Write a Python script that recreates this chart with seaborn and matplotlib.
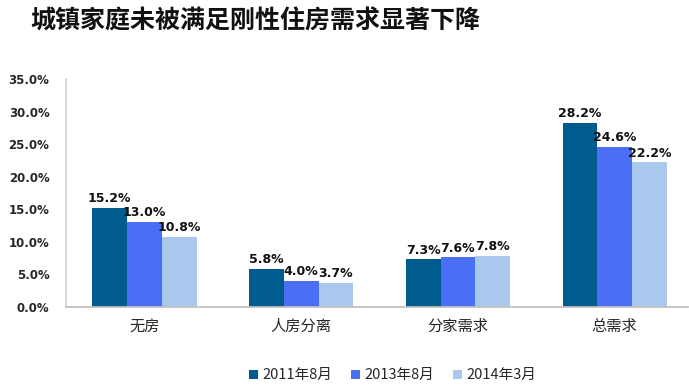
import matplotlib.pyplot as plt
import pandas as pd
import seaborn as sns

categories = ['无房', '人房分离', '分家需求', '总需求']
periods = ['2011年8月', '2013年8月', '2014年3月']
values_2011 = [15.2, 5.8, 7.3, 28.2]
values_2013 = [13.0, 4.0, 7.6, 24.6]
values_2014 = [10.8, 3.7, 7.8, 22.2]
colors = ['#005b8f', '#4a6ff5', '#a8c8ee']

df = pd.DataFrame({
    'category': categories * 3,
    'period': [periods[0]] * 4 + [periods[1]] * 4 + [periods[2]] * 4,
    'value': values_2011 + values_2013 + values_2014,
})

sns.set_theme(style='white')
plt.rcParams['font.family'] = ['Noto Sans CJK SC', 'DejaVu Sans']

fig = plt.figure(figsize=(6.89, 3.87), dpi=100)
ax = fig.add_axes([0.096, 0.207, 0.903, 0.589])

sns.barplot(data=df, x='category', y='value', hue='period', order=categories,
            hue_order=periods, palette=colors, width=0.665, saturation=1,
            ax=ax, legend=True, edgecolor='none')

for container in ax.containers:
    ax.bar_label(container, labels=[f'{v:.1f}%' for v in container.datavalues],
                 fontsize=9, fontweight='bold', padding=2, color='#111111',
                 family=['DejaVu Sans'])

ax.set_ylim(0, 35)
ax.set_yticks([0, 5, 10, 15, 20, 25, 30, 35])
ax.set_yticklabels([f'{t:.1f}%' for t in range(0, 36, 5)], fontsize=8.5,
                   fontweight='bold', family=['DejaVu Sans'])
ax.set_xlim(-0.5, 3.47)
ax.tick_params(axis='x', labelsize=11, length=0, pad=8)
ax.tick_params(axis='y', length=0, pad=12)
ax.set_xlabel('')
ax.set_ylabel('')
for side in ['top', 'right']:
    ax.spines[side].set_visible(False)
ax.spines['left'].set_color('#d0d0d0')
ax.spines['bottom'].set_color('#c0c0c0')

handles, labels = ax.get_legend_handles_labels()
ax.get_legend().remove()
fig.legend(handles, labels, loc='center', bbox_to_anchor=(0.57, 0.03), ncol=3,
           frameon=False, fontsize=10.5, handlelength=0.6, handleheight=0.6,
           columnspacing=1.3, handletextpad=0.3)

fig.text(0.044, 0.945, '城镇家庭未被满足刚性住房需求显著下降', fontsize=18,
         fontweight='bold', va='center', ha='left', color='#111111')

fig.savefig('out.png', dpi=100)
